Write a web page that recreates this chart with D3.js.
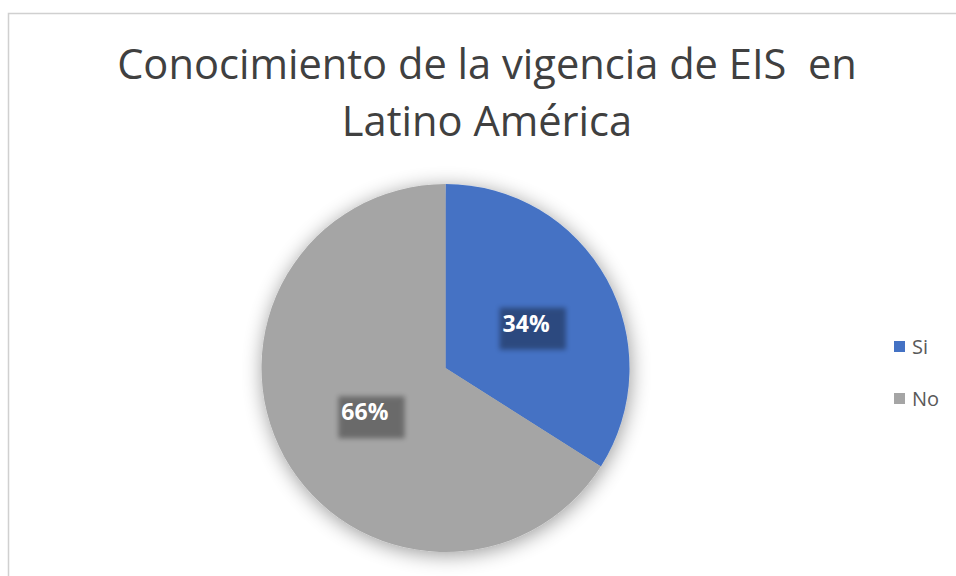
<!DOCTYPE html>
<html lang="es">
<head>
  <meta charset="UTF-8">
  <title>Conocimiento de la vigencia de EIS en Latino América</title>
  <script src="https://d3js.org/d3.v7.min.js"></script>
  <style>
    body { margin: 0; background: #fff; }
    svg { display: block; }
    .title { font-family: "Open Sans", sans-serif; fill: #404040; }
    .pct { font-family: "Open Sans", sans-serif; font-weight: bold; font-size: 23px; fill: #fff; }
  </style>
</head>
<body>
<svg width="956" height="576"></svg>
<script>
  const categories = ["Si", "No"];
  const values = [34, 66];
  const colors = ["#4472C4", "#A5A5A5"];
  const titleLines = ["Conocimiento de la vigencia de EIS  en", "Latino América"];

  const svg = d3.select("svg");
  const defs = svg.append("defs");

  defs.append("filter").attr("id", "pieShadow")
    .attr("x", "-30%").attr("y", "-30%").attr("width", "160%").attr("height", "160%")
    .call(f => {
      f.append("feGaussianBlur").attr("in", "SourceAlpha").attr("stdDeviation", 10);
      f.append("feOffset").attr("dx", 1).attr("dy", 3).attr("result", "b");
      f.append("feComponentTransfer").call(c => c.append("feFuncA").attr("type", "linear").attr("slope", 0.4));
      f.append("feMerge").call(m => {
        m.append("feMergeNode");
        m.append("feMergeNode").attr("in", "SourceGraphic");
      });
    });

  defs.append("filter").attr("id", "labelBlur")
    .attr("x", "-30%").attr("y", "-30%").attr("width", "160%").attr("height", "160%")
    .append("feGaussianBlur").attr("stdDeviation", 2.5);

  // chart frame (runs off the right and bottom)
  svg.append("rect")
    .attr("x", 8.5).attr("y", 13.5)
    .attr("width", 1000).attr("height", 700)
    .attr("fill", "#fff").attr("stroke", "#d0d0d0").attr("stroke-width", 1.5);

  // title, fitted to the reference width
  const title = svg.append("g");
  const t1 = title.append("text").attr("class", "title")
    .attr("x", 487).attr("y", 79).attr("text-anchor", "middle")
    .style("font-size", "40px").style("white-space", "pre").text(titleLines[0]);
  const w1 = t1.node().getComputedTextLength();
  const fs = 40 * 740 / w1;
  t1.style("font-size", fs + "px");
  title.append("text").attr("class", "title")
    .attr("x", 487).attr("y", 136).attr("text-anchor", "middle")
    .style("font-size", fs + "px").text(titleLines[1]);

  // pie
  const cx = 445.5, cy = 368, r = 184;
  const data = categories.map((c, i) => ({ name: c, value: values[i], color: colors[i] }));
  const pie = d3.pie().sort(null).value(d => d.value);
  const arc = d3.arc().innerRadius(0).outerRadius(r);
  const arcs = pie(data);

  const g = svg.append("g").attr("transform", `translate(${cx},${cy})`);
  g.append("g").attr("filter", "url(#pieShadow)")
    .selectAll("path")
    .data(arcs)
    .join("path")
    .attr("d", arc)
    .attr("fill", d => d.data.color);

  // data labels with dark blurred backing
  const total = d3.sum(values);
  const labels = g.selectAll(".lab")
    .data(arcs)
    .join("g")
    .attr("class", "lab")
    .attr("transform", d => `translate(${arc.centroid(d)})`);

  labels.each(function (d) {
    const sel = d3.select(this);
    const bg = sel.append("rect");
    const txt = sel.append("text").attr("class", "pct")
      .attr("text-anchor", "middle").attr("y", 8)
      .text(Math.round(d.data.value / total * 100) + "%");
    const bb = txt.node().getBBox();
    bg.attr("x", bb.x - 3).attr("y", bb.y + 1)
      .attr("width", bb.width + 19).attr("height", bb.height + 10)
      .attr("fill", "#000").attr("opacity", 0.35)
      .attr("filter", "url(#labelBlur)");
  });

  // legend
  const legend = svg.append("g").attr("transform", "translate(894,341)");
  const items = legend.selectAll("g")
    .data(data)
    .join("g")
    .attr("transform", (d, i) => `translate(0,${i * 52})`);
  items.append("rect").attr("width", 11).attr("height", 11).attr("fill", d => d.color);
  items.append("text")
    .attr("x", 18).attr("y", 13)
    .style("font-family", "'Open Sans', sans-serif")
    .style("font-size", "20px")
    .style("fill", "#595959")
    .text(d => d.name);
</script>
</body>
</html>
